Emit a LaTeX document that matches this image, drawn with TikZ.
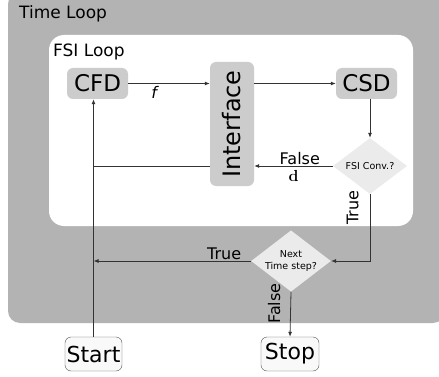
\documentclass[tikz,border=0pt]{standalone}
\usepackage{fontspec}
\usepackage{tikz}
\usepackage{xcolor}
\setmainfont{DejaVu Sans}
\newfontfamily\lmserif{Latin Modern Roman}
\usetikzlibrary{arrows.meta,shapes.geometric}
\definecolor{LoopGray}{HTML}{B3B3B3}
\definecolor{BoxGray}{HTML}{CCCCCC}
\definecolor{DiaGray}{HTML}{EBEBEB}
\definecolor{EndFill}{HTML}{F9F9F9}
\definecolor{LineGray}{HTML}{333333}

\begin{document}
\begin{tikzpicture}[x=1pt,y=-1pt,
  block/.style={fill=BoxGray,rounded corners=6pt,inner sep=0pt,font=\fontsize{23}{26}\selectfont},
  decide/.style={diamond,aspect=1.3,fill=DiaGray,inner sep=0pt,align=center,font=\fontsize{9.5}{12.5}\selectfont},
  terminal/.style={draw=LineGray!85,fill=EndFill,rounded corners=6pt,inner sep=0pt,minimum width=57pt,minimum height=34pt,font=\fontsize{22}{24}\selectfont},
  flow/.style={LineGray,line width=0.8pt,-{Latex[length=5pt,width=4pt]}},
  plain/.style={LineGray,line width=0.8pt},
  lbl/.style={text=black,font=\fontsize{16}{18}\selectfont,inner sep=1pt}]
  \useasboundingbox (0,0) rectangle (439,377);
  % loops
  \fill[LoopGray,rounded corners=12pt] (8,-8) rectangle (445,323);
  \fill[white,rounded corners=15pt] (49,35) rectangle (413,226);
  \node[anchor=base west,inner sep=0pt,font=\fontsize{17}{20}\selectfont] (tloop) at (19,19) {Time Loop};
  \node[anchor=base west,inner sep=0pt,font=\fontsize{17}{20}\selectfont] (floop) at (53,57) {FSI Loop};
  % blocks
  \node[block,minimum width=61pt,minimum height=31pt] (cfd) at (97.5,83.5) {CFD};
  \node[block,rotate=90,minimum width=124pt,minimum height=44pt,font=\fontsize{24}{26}\selectfont] (iface) at (232,124) {Interface};
  \node[block,minimum width=61pt,minimum height=31pt] (csd) at (366.5,83.5) {CSD};
  \node[decide,minimum width=74pt,minimum height=56pt] (conv) at (370,166) {FSI Conv.?};
  \node[decide,minimum width=76pt,minimum height=58pt] (next) at (291,261) {Next\\Time step?};
  \node[terminal] (start) at (93.5,354) {Start};
  \node[terminal,minimum width=58pt] (stop) at (290,354) {Stop};
  % connectors
  \draw[flow] (cfd.east) -- node[below=1pt,lbl,pos=0.33] {\textit{f}} (cfd.east -| iface.north);
  \draw[flow] (iface.south |- csd.west) -- (csd.west);
  \draw[flow] (conv.north |- csd.south) -- (conv.north);
  \draw[flow] (conv.west) -- node[above,lbl,pos=0.42] {False} node[below=3pt,lbl,pos=0.5] {\lmserif\bfseries d} (conv.west -| iface.south);
  \draw[plain] (conv.west -| iface.north) -- (conv.west -| start.north);
  \draw[flow] (start.north) -- (start.north |- cfd.south);
  \draw[flow] (conv.south) -- node[lbl,rotate=90,anchor=south,inner sep=11pt,pos=0.2] {True} (conv.south |- next.east) -- (next.east);
  \draw[flow] (next.west) -- node[lbl,above,pos=0.17] {True} (next.west -| start.north);
  \draw[flow] (next.south) -- node[lbl,rotate=90,anchor=south,inner sep=10pt,pos=0.26] {False} (stop.north);
\end{tikzpicture}
\end{document}
